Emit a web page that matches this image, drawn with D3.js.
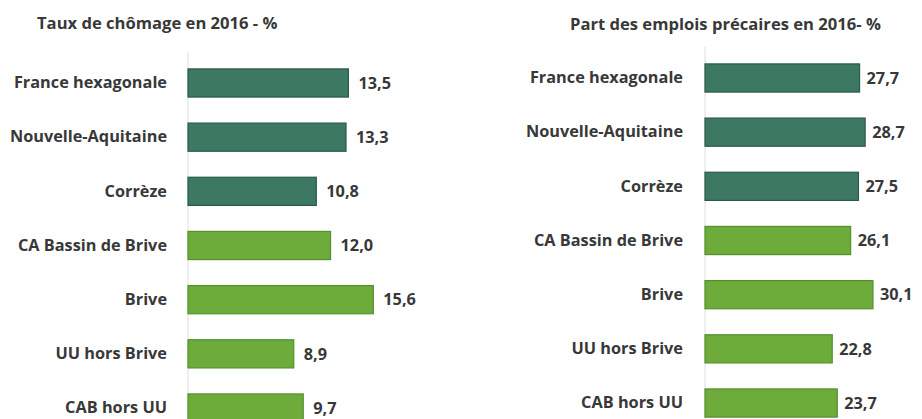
<!DOCTYPE html>
<html>
<head>
<meta charset="utf-8">
<script src="https://cdn.jsdelivr.net/npm/d3@7"></script>
<style>
  body { margin: 0; background: #fff; }
  text { font-family: "Open Sans", Lato, sans-serif; font-weight: bold; fill: #383838; }
</style>
</head>
<body>
<div id="chart-area"></div>
<script>
var categories = ["France hexagonale", "Nouvelle-Aquitaine", "Corrèze", "CA Bassin de Brive", "Brive", "UU hors Brive", "CAB hors UU"];
var chomage = [13.5, 13.3, 10.8, 12.0, 15.6, 8.9, 9.7];
var precaires = [27.7, 28.7, 27.5, 26.1, 30.1, 22.8, 23.7];
var groups = ["ref", "ref", "ref", "cab", "cab", "cab", "cab"];

var width = 922, height = 419;
var svg = d3.select("#chart-area").append("svg")
    .attr("width", width)
    .attr("height", height);

var fills = {ref: "#3d7863", cab: "#6dab3b"};
var strokes = {ref: "#2b5a49", cab: "#55902c"};
var fmt = function(v) { return d3.format(".1f")(v).replace(".", ","); };

function drawPanel(opts) {
    var data = categories.map(function(c, i) {
        return {name: c, value: opts.values[i], group: groups[i]};
    });

    var y = d3.scaleBand()
        .domain(categories)
        .range(opts.yRange)
        .paddingInner(0.48)
        .paddingOuter(0.24);

    var x = d3.scaleLinear()
        .domain([0, opts.max])
        .range([opts.x0, opts.x0 + opts.pxWidth]);

    var g = svg.append("g");

    // faint vertical axis line
    g.append("line")
        .attr("x1", x(0)).attr("x2", x(0))
        .attr("y1", opts.yRange[0] - 4).attr("y2", height)
        .attr("stroke", "#dedede")
        .attr("stroke-width", 1);

    g.selectAll("rect").data(data).enter()
        .append("rect")
            .attr("x", x(0))
            .attr("y", function(d) { return y(d.name); })
            .attr("width", function(d) { return x(d.value) - x(0); })
            .attr("height", y.bandwidth())
            .attr("fill", function(d) { return fills[d.group]; })
            .attr("stroke", function(d) { return strokes[d.group]; })
            .attr("stroke-width", 1.2);

    var leftAxis = d3.axisLeft(y).tickSize(0).tickPadding(opts.labelPad);
    var ax = g.append("g")
        .attr("transform", "translate(" + x(0) + ",0)")
        .call(leftAxis);
    ax.select(".domain").remove();
    ax.selectAll("text")
        .attr("font-size", "16.3px")
        .style("font-family", "'Open Sans', sans-serif")
        .style("font-weight", "bold")
        .attr("fill", "#383838");

    g.selectAll(".val").data(data).enter()
        .append("text")
            .attr("class", "val")
            .attr("x", function(d) { return x(d.value) + opts.valGap; })
            .attr("y", function(d) { return y(d.name) + y.bandwidth() / 2; })
            .attr("dy", "0.35em")
            .attr("font-size", "16.3px")
            .text(function(d) { return fmt(d.value); });

    g.append("text")
        .attr("x", opts.titleX)
        .attr("y", opts.titleY)
        .attr("font-size", "16.6px")
        .text(opts.title);
}

drawPanel({
    values: chomage,
    max: 20,
    x0: 188,
    pxWidth: 237.6,
    yRange: [55.9, 435.1],
    labelPad: 21,
    valGap: 10,
    title: "Taux de chômage en 2016 - %",
    titleX: 37,
    titleY: 29
});

drawPanel({
    values: precaires,
    max: 35,
    x0: 705,
    pxWidth: 195.3,
    yRange: [50.9, 430.1],
    labelPad: 22,
    valGap: 7,
    title: "Part des emplois précaires en 2016- %",
    titleX: 570,
    titleY: 30
});
</script>
</body>
</html>
